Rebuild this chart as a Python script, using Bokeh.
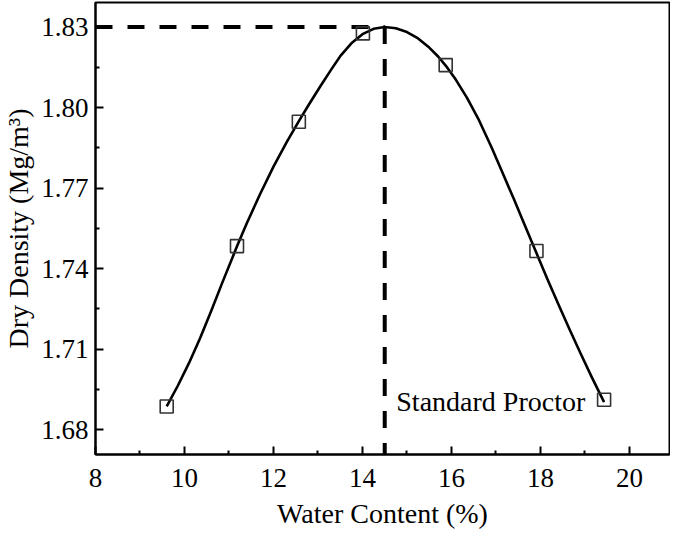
from bokeh.plotting import figure
from bokeh.models import Range1d, FixedTicker, PrintfTickFormatter
from bokeh.core.properties import value
from bokeh.embed import file_html
from bokeh.resources import INLINE

# Measured points
water_content = [9.60, 11.18, 12.57, 14.01, 15.87, 17.91, 19.43]
dry_density = [1.6887, 1.7484, 1.7947, 1.8276, 1.8158, 1.7466, 1.6912]

# Fitted compaction curve
curve_x = [9.60, 9.85, 10.10, 10.35, 10.60, 10.85, 11.18, 11.40, 11.70, 12.00,
           12.30, 12.57, 12.80, 13.05, 13.30, 13.50, 13.75, 14.00, 14.25, 14.50,
           14.75, 15.00, 15.25, 15.50, 15.70, 15.87, 16.10, 16.35, 16.60, 16.90,
           17.15, 17.40, 17.65, 17.91, 18.15, 18.40, 18.65, 18.90, 19.15, 19.43]
curve_y = [1.6887, 1.6964, 1.7048, 1.7141, 1.7242, 1.7348, 1.7483, 1.7569, 1.7678, 1.7780,
           1.7872, 1.7949, 1.8012, 1.8078, 1.8142, 1.8191, 1.8239, 1.8273, 1.8293, 1.8300,
           1.8295, 1.8281, 1.8257, 1.8223, 1.8190, 1.8156, 1.8103, 1.8036, 1.7959, 1.7852,
           1.7756, 1.7660, 1.7561, 1.7458, 1.7363, 1.7268, 1.7175, 1.7085, 1.6997, 1.6903]

# Optimum
optimum_water = 14.5
max_dry_density = 1.83
label_text = "Standard Proctor"
label_x = 14.76
label_y = 1.6906

x_start, x_end = 8.0, 20.9
y_start, y_end = 1.6708, 1.8391
x_ticks = [8, 10, 12, 14, 16, 18, 20]
x_minor = [9, 11, 13, 15, 17, 19]
y_ticks = [1.68, 1.71, 1.74, 1.77, 1.80, 1.83]
y_minor = [1.695, 1.725, 1.755, 1.785, 1.815]

FONT = "'Liberation Serif', 'Times New Roman', serif"

p = figure(width=670, height=534, output_backend="svg", toolbar_location=None,
           x_range=Range1d(x_start, x_end), y_range=Range1d(y_start, y_end),
           min_border_left=89, min_border_right=1, min_border_top=2, min_border_bottom=80)
p.background_fill_color = "white"
p.border_fill_color = "white"
p.grid.visible = False
p.outline_line_color = "black"
p.outline_line_width = 2

p.xaxis.ticker = FixedTicker(ticks=x_ticks, minor_ticks=x_minor)
p.yaxis.ticker = FixedTicker(ticks=y_ticks, minor_ticks=y_minor)
p.yaxis.formatter = PrintfTickFormatter(format="%.2f")
p.xaxis.axis_label = "Water Content (%)"
p.yaxis.axis_label = "Dry Density (Mg/m³)"

for ax in (p.xaxis, p.yaxis):
    ax.axis_line_width = 2
    ax.axis_line_color = "black"
    ax.major_tick_in = 8
    ax.major_tick_out = 0
    ax.minor_tick_in = 4
    ax.minor_tick_out = 0
    ax.major_tick_line_width = 2
    ax.minor_tick_line_width = 2
    ax.major_label_text_font = FONT
    ax.major_label_text_font_size = "27px"
    ax.major_label_text_color = "black"
    ax.axis_label_text_font = FONT
    ax.axis_label_text_font_size = "28px"
    ax.axis_label_text_font_style = "normal"
    ax.axis_label_text_color = "black"

p.xaxis.major_label_standoff = 14
p.xaxis.axis_label_standoff = 8
p.yaxis.major_label_standoff = 7
p.yaxis.axis_label_standoff = 4

# Guide lines at the optimum
p.line([x_start, optimum_water], [max_dry_density, max_dry_density],
       line_color="black", line_width=4, line_dash="17 15")
p.line([optimum_water, optimum_water], [max_dry_density, y_start],
       line_color="black", line_width=4, line_dash="17 15")

# Curve and points
p.line(curve_x, curve_y, line_color="black", line_width=2.6, line_join="round")
p.scatter(water_content, dry_density, marker="square", size=13,
          fill_alpha=0, line_color="#333333", line_width=1.6)

p.text(x=[label_x], y=[label_y], text=[label_text], text_font=value(FONT),
       text_font_size="28px", text_baseline="middle", text_align="left",
       text_color="black")

open("out.html", "w").write(file_html(p, INLINE))
